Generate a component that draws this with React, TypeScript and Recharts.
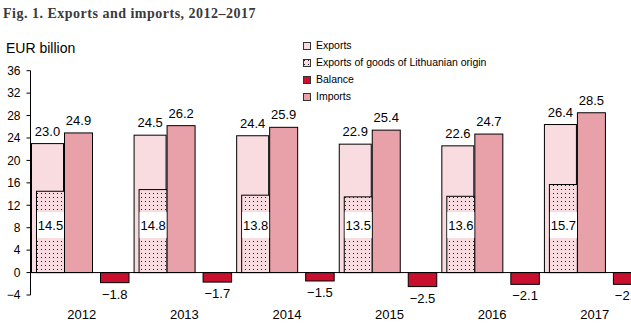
import React from "react";
import { BarChart, Bar, XAxis, YAxis, ReferenceLine, LabelList } from "recharts";

// data
const years = ["2012", "2013", "2014", "2015", "2016", "2017"];
const exportsTotal = [23.0, 24.5, 24.4, 22.9, 22.6, 26.4];
const exportsLt = [14.5, 14.8, 13.8, 13.5, 13.6, 15.7];
const balance = [-1.8, -1.7, -1.5, -2.5, -2.1, -2.1];
const imports = [24.9, 26.2, 25.9, 25.4, 24.7, 28.5];
const yTicks = [-4, 0, 4, 8, 12, 16, 20, 24, 28, 32, 36];

const data = years.map((year, i) => ({
  year,
  exp: exportsTotal[i],
  lt: exportsLt[i],
  imp: imports[i],
  bal: balance[i],
}));

const FONT = '"Liberation Sans", Arial, sans-serif';
const C_EXP = "#F9DCE0";
const C_IMP = "#E9A1A9";
const C_BAL = "#C8102E";

// recharts lays the 4 bars out as 20px slots starting 11px into each band;
// the shapes move them to the overlapping layout of the original
const NAT_OFF = 11;
const NAT_W = 20;

type Slot = { i: number; off: number; w: number };
const S_EXP: Slot = { i: 0, off: 1, w: 32 };
const S_LT: Slot = { i: 1, off: 6, w: 28 };
const S_IMP: Slot = { i: 2, off: 34, w: 28 };
const S_BAL: Slot = { i: 3, off: 70, w: 28.5 };

const fmt = (v: number) => v.toFixed(1).replace("-", "\u2212");

const box = (p: any) => {
  const vb = p.viewBox || p;
  const top = Math.min(vb.y, vb.y + vb.height);
  const bottom = Math.max(vb.y, vb.y + vb.height);
  return { x: vb.x, top, bottom };
};

const barShape = (s: Slot, fill: string) => (p: any) => {
  const b = box(p);
  const x = b.x - NAT_OFF - NAT_W * s.i + s.off;
  return (
    <rect x={x} y={b.top} width={s.w} height={b.bottom - b.top} fill={fill} stroke="#000" strokeWidth={1} />
  );
};

const aboveLabel = (s: Slot) => (p: any) => {
  const b = box(p);
  const cx = b.x - NAT_OFF - NAT_W * s.i + s.off + s.w / 2;
  return (
    <text x={cx} y={b.top - 8} textAnchor="middle" fontSize={13} fontFamily={FONT} fill="#000">
      {fmt(p.value)}
    </text>
  );
};

const belowLabel = (s: Slot) => (p: any) => {
  const b = box(p);
  const cx = b.x - NAT_OFF - NAT_W * s.i + s.off + s.w / 2;
  return (
    <text x={cx} y={b.bottom + 16} textAnchor="middle" fontSize={13} fontFamily={FONT} fill="#000">
      {fmt(p.value)}
    </text>
  );
};

const ltLabel = (p: any) => {
  const b = box(p);
  const x = b.x - NAT_OFF - NAT_W * S_LT.i + S_LT.off;
  const cy = b.bottom - 47.5;
  return (
    <g>
      <rect x={x + 0.5} y={cy - 13} width={S_LT.w - 1} height={26} fill="#fff" />
      <text x={x + S_LT.w / 2} y={cy + 4.5} textAnchor="middle" fontSize={13} fontFamily={FONT} fill="#000">
        {fmt(p.value)}
      </text>
    </g>
  );
};

const legendItems = [
  { name: "Exports", fill: C_EXP },
  { name: "Exports of goods of Lithuanian origin", fill: "url(#ltDots)" },
  { name: "Balance", fill: C_BAL },
  { name: "Imports", fill: C_IMP },
];

export default function App() {
  return (
    <div
      style={{
        position: "fixed",
        left: 0,
        top: 0,
        width: 631,
        height: 329,
        overflow: "hidden",
        background: "#fff",
      }}
    >
      <svg width={0} height={0} style={{ position: "absolute" }}>
        <defs>
          <pattern id="ltDots" width={4} height={4} patternUnits="userSpaceOnUse">
            <rect width={4} height={4} fill={C_EXP} />
            <rect x={1} y={1} width={1} height={1} fill="#222" />
          </pattern>
        </defs>
      </svg>

      <div style={{ position: "absolute", left: 0, top: 0 }}>
        <BarChart
          width={646}
          height={329}
          data={data}
          margin={{ top: 70.7, right: 0, bottom: 0, left: 0.5 }}
          barGap={0}
          barCategoryGap={0}
        >
          <XAxis
            dataKey="year"
            axisLine={false}
            tickLine={false}
            tickSize={0}
            tickMargin={15}
            height={34}
            interval={0}
            tick={{ fontSize: 13, fontFamily: FONT, fill: "#000" }}
          />
          <YAxis
            width={30}
            domain={[-4, 36]}
            ticks={yTicks}
            interval={0}
            tickSize={4}
            tickMargin={6}
            axisLine={{ stroke: "#000" }}
            tickLine={{ stroke: "#000" }}
            tickFormatter={(v: number) => String(v).replace("-", "\u2212")}
            tick={{ fontSize: 12, fontFamily: FONT, fill: "#000" }}
          />
          <Bar dataKey="exp" name="Exports" barSize={NAT_W} fill={C_EXP} shape={barShape(S_EXP, C_EXP)} isAnimationActive={false}>
            <LabelList dataKey="exp" content={aboveLabel(S_EXP)} />
          </Bar>
          <Bar dataKey="lt" name="Exports of goods of Lithuanian origin" barSize={NAT_W} fill={C_EXP} shape={barShape(S_LT, "url(#ltDots)")} isAnimationActive={false}>
            <LabelList dataKey="lt" content={ltLabel} />
          </Bar>
          <Bar dataKey="imp" name="Imports" barSize={NAT_W} fill={C_IMP} shape={barShape(S_IMP, C_IMP)} isAnimationActive={false}>
            <LabelList dataKey="imp" content={aboveLabel(S_IMP)} />
          </Bar>
          <Bar dataKey="bal" name="Balance" barSize={NAT_W} fill={C_BAL} shape={barShape(S_BAL, C_BAL)} isAnimationActive={false}>
            <LabelList dataKey="bal" content={belowLabel(S_BAL)} />
          </Bar>
          <ReferenceLine y={0} stroke="#000" strokeWidth={1} />
        </BarChart>
      </div>

      <div
        style={{
          position: "absolute",
          left: 3,
          top: 7,
          fontFamily: '"Liberation Serif", serif',
          fontWeight: "bold",
          fontSize: 14,
          lineHeight: "14px",
          letterSpacing: 0.5,
          color: "#3a3a3a",
          whiteSpace: "nowrap",
        }}
      >
        Fig. 1. Exports and imports, 2012–2017
      </div>
      <div
        style={{
          position: "absolute",
          left: 6,
          top: 41,
          fontFamily: FONT,
          fontSize: 14,
          lineHeight: "14px",
          color: "#000",
          whiteSpace: "nowrap",
        }}
      >
        EUR billion
      </div>

      {legendItems.map((it, k) => {
        const cy = 45.7 + k * 17;
        return (
          <div key={it.name}>
            <svg width={8} height={8} style={{ position: "absolute", left: 303, top: cy - 4 }}>
              <rect x={0.5} y={0.5} width={7} height={7} fill={it.fill} stroke="#333" strokeWidth={1} />
            </svg>
            <div
              style={{
                position: "absolute",
                left: 316,
                top: cy - 5.5,
                fontFamily: FONT,
                fontSize: 10.5,
                lineHeight: "11px",
                color: "#000",
                whiteSpace: "nowrap",
              }}
            >
              {it.name}
            </div>
          </div>
        );
      })}
    </div>
  );
}
